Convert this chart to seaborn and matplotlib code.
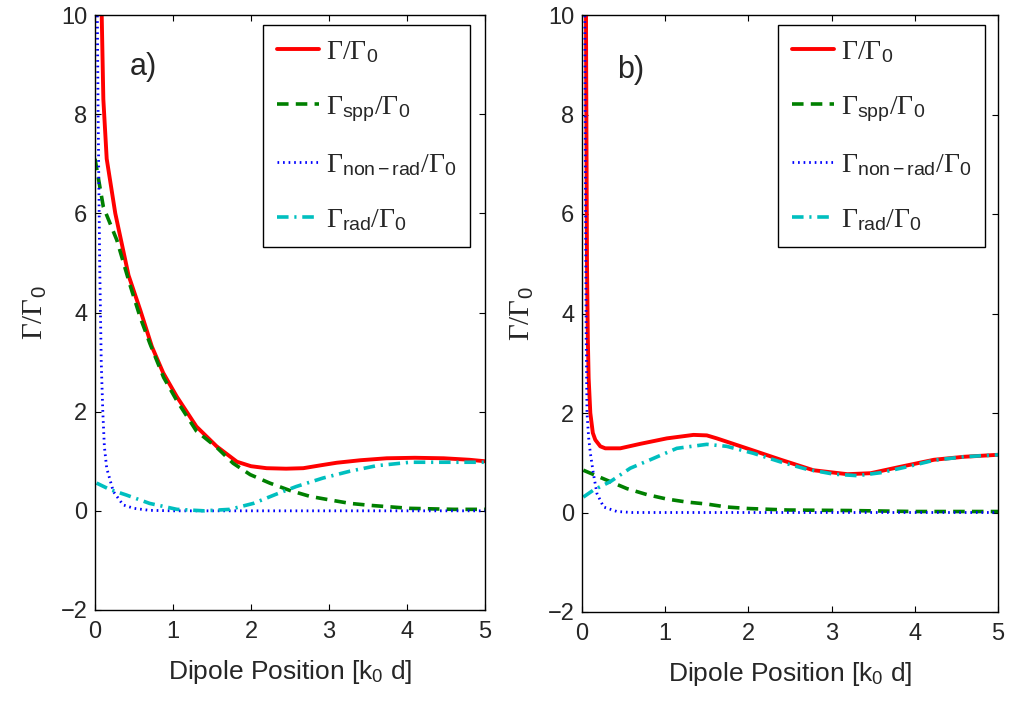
import numpy as np
import pandas as pd
import matplotlib
matplotlib.use("Agg")
import matplotlib.pyplot as plt
import seaborn as sns

# ---------------- data ----------------
# panel a)
xa_tot = [0.06, 0.086, 0.107, 0.15, 0.26, 0.43, 0.58, 0.73, 0.875, 1.05, 1.30, 1.56, 1.82, 2.0, 2.2,
          2.45, 2.67, 2.9, 3.1, 3.4, 3.74, 4.1, 4.47, 4.8, 5.0]
ya_tot = [11.5, 10.0, 8.3, 7.1, 6.0, 4.75, 4.05, 3.31, 2.78, 2.30, 1.70, 1.30, 0.99, 0.9, 0.86,
          0.85, 0.86, 0.92, 0.97, 1.02, 1.06, 1.07, 1.06, 1.03, 1.0]
xa_spp = [0.0, 0.107, 0.28, 0.45, 0.58, 0.705, 0.88, 1.05, 1.3, 1.56, 1.77, 1.99, 2.24, 2.5, 2.76,
          3.01, 3.27, 3.53, 4.04, 4.6, 5.0]
ya_spp = [7.1, 6.13, 5.46, 4.55, 3.9, 3.37, 2.69, 2.22, 1.61, 1.28, 0.96, 0.73, 0.56, 0.41, 0.29,
          0.22, 0.15, 0.11, 0.05, 0.03, 0.03]
xa_nr = [0.02, 0.04, 0.06, 0.08, 0.1, 0.12, 0.15, 0.235, 0.36, 0.5, 0.7, 1.0, 1.5, 2.0, 3.0, 4.0, 5.0]
ya_nr = [12, 8, 5, 3, 2, 1.3, 0.86, 0.39, 0.12, 0.05, 0.01, 0, 0, 0, 0, 0, 0]
xa_rad = [0.02, 0.19, 0.4, 0.7, 1.05, 1.4, 1.73, 2.03, 2.33, 2.58, 2.92, 3.27, 3.61, 4.04, 4.5, 5.0]
ya_rad = [0.56, 0.43, 0.32, 0.15, 0.03, 0.0, 0.03, 0.15, 0.34, 0.49, 0.66, 0.8, 0.91, 0.98, 0.98, 0.98]

# panel b)
xb_tot = [0.045, 0.05, 0.055, 0.06, 0.07, 0.08, 0.1, 0.13, 0.16, 0.22, 0.28, 0.46, 0.70, 1.02, 1.34,
          1.5, 1.62, 1.98, 2.39, 2.78, 3.19, 3.47, 3.83, 4.23, 4.59, 5.0]
yb_tot = [12, 9, 7, 5, 3.5, 2.7, 2.0, 1.6, 1.46, 1.33, 1.29, 1.29, 1.38, 1.49, 1.56,
          1.55, 1.49, 1.29, 1.06, 0.85, 0.77, 0.79, 0.92, 1.06, 1.12, 1.16]
xb_spp = [0.016, 0.34, 0.54, 0.78, 1.02, 1.26, 1.5, 1.74, 2.0, 2.47, 3.2, 4.0, 5.0]
yb_spp = [0.85, 0.62, 0.48, 0.36, 0.27, 0.21, 0.17, 0.11, 0.08, 0.05, 0.04, 0.02, 0.02]
xb_nr = [0.03, 0.04, 0.05, 0.06, 0.08, 0.1, 0.135, 0.18, 0.26, 0.42, 0.6, 1.0, 2.0, 3.0, 4.0, 5.0]
yb_nr = [12, 7, 3.5, 2.0, 1.5, 1.2, 0.8, 0.38, 0.11, 0.02, 0, 0, 0, 0, 0, 0]
xb_rad = [0.016, 0.137, 0.34, 0.58, 0.82, 1.14, 1.5, 1.74, 2.06, 2.38, 2.7, 3.03, 3.31, 3.59, 3.91,
          4.23, 4.59, 5.0]
yb_rad = [0.31, 0.45, 0.62, 0.89, 1.06, 1.29, 1.37, 1.33, 1.19, 1.02, 0.87, 0.77, 0.74, 0.8, 0.92,
          1.05, 1.12, 1.16]

series_labels = [r'$\Gamma/\Gamma_{\mathsf{0}}$',
                 r'$\Gamma_{\mathsf{spp}}/\Gamma_{\mathsf{0}}$',
                 r'$\Gamma_{\mathsf{non-rad}}/\Gamma_{\mathsf{0}}$',
                 r'$\Gamma_{\mathsf{rad}}/\Gamma_{\mathsf{0}}$']
panel_tags = ['a)', 'b)']
xticks = [0, 1, 2, 3, 4, 5]
yticks = [-2, 0, 2, 4, 6, 8, 10]

# ---------------- style ----------------
sns.set_style("ticks")
plt.rcParams['font.family'] = ['Liberation Sans', 'DejaVu Sans']
plt.rcParams['mathtext.fontset'] = 'custom'
plt.rcParams['mathtext.rm'] = 'Liberation Serif'
plt.rcParams['mathtext.it'] = 'Liberation Serif:italic'
plt.rcParams['mathtext.sf'] = 'Liberation Sans'
plt.rcParams['xtick.direction'] = 'in'
plt.rcParams['ytick.direction'] = 'in'
plt.rcParams['axes.unicode_minus'] = True

colors = [(1, 0, 0), (0, 0.5, 0), (0, 0, 1), (0, 0.75, 0.75)]
styles = ['-', (0, (3.2, 2.0)), (0, (0.6, 1.4)), (0, (3.2, 1.6, 0.6, 1.6))]
widths = [2.8, 2.6, 2.0, 2.6]

fig = plt.figure(figsize=(10.11, 7.06), dpi=100)
ax_a = fig.add_axes([95/1011, 1 - 610/706, 390/1011, 595/706])
ax_b = fig.add_axes([582/1011, 1 - 612/706, 416/1011, 597/706])

panels = [
    (ax_a, [(xa_tot, ya_tot), (xa_spp, ya_spp), (xa_nr, ya_nr), (xa_rad, ya_rad)]),
    (ax_b, [(xb_tot, yb_tot), (xb_spp, yb_spp), (xb_nr, yb_nr), (xb_rad, yb_rad)]),
]
leg_anchor = [(0.962, 0.983), (0.969, 0.983)]
tag_pos = [(0.123, 0.913), (0.118, 0.908)]

for i, (ax, data) in enumerate(panels):
    for j, (xs, ys) in enumerate(data):
        df = pd.DataFrame({'x': xs, 'y': ys})
        sns.lineplot(data=df, x='x', y='y', ax=ax, color=colors[j], linestyle=styles[j],
                     linewidth=widths[j], label=series_labels[j], estimator=None, sort=False)
    ax.set_xlim(0, 5)
    ax.set_ylim(-2, 10)
    ax.set_xticks(xticks)
    ax.set_yticks(yticks)
    ax.tick_params(axis='both', which='both', top=True, right=True, length=4.5, width=0.8,
                   labelsize=17, color='black')
    ax.tick_params(axis='x', pad=8)
    ax.tick_params(axis='y', pad=5.5)
    for s in ax.spines.values():
        s.set_visible(True)
        s.set_color('black')
        s.set_linewidth(1.0)
    ax.set_xlabel(r'Dipole Position [k$_{\mathsf{0}}$ d]', fontsize=19, labelpad=11)
    ax.set_ylabel(r'$\Gamma/\Gamma_{\mathsf{0}}$', fontsize=21, labelpad=8)
    ax.text(tag_pos[i][0], tag_pos[i][1], panel_tags[i], transform=ax.transAxes, fontsize=22,
            ha='center', va='center')
    leg = ax.legend(loc='upper right', bbox_to_anchor=leg_anchor[i], fontsize=20,
                    handlelength=1.5, handletextpad=0.25, labelspacing=1.03,
                    borderpad=0.5, borderaxespad=0.0, fancybox=False, framealpha=1,
                    edgecolor='black')
    leg.get_frame().set_linewidth(1.0)

fig.savefig('out.png', dpi=100)
